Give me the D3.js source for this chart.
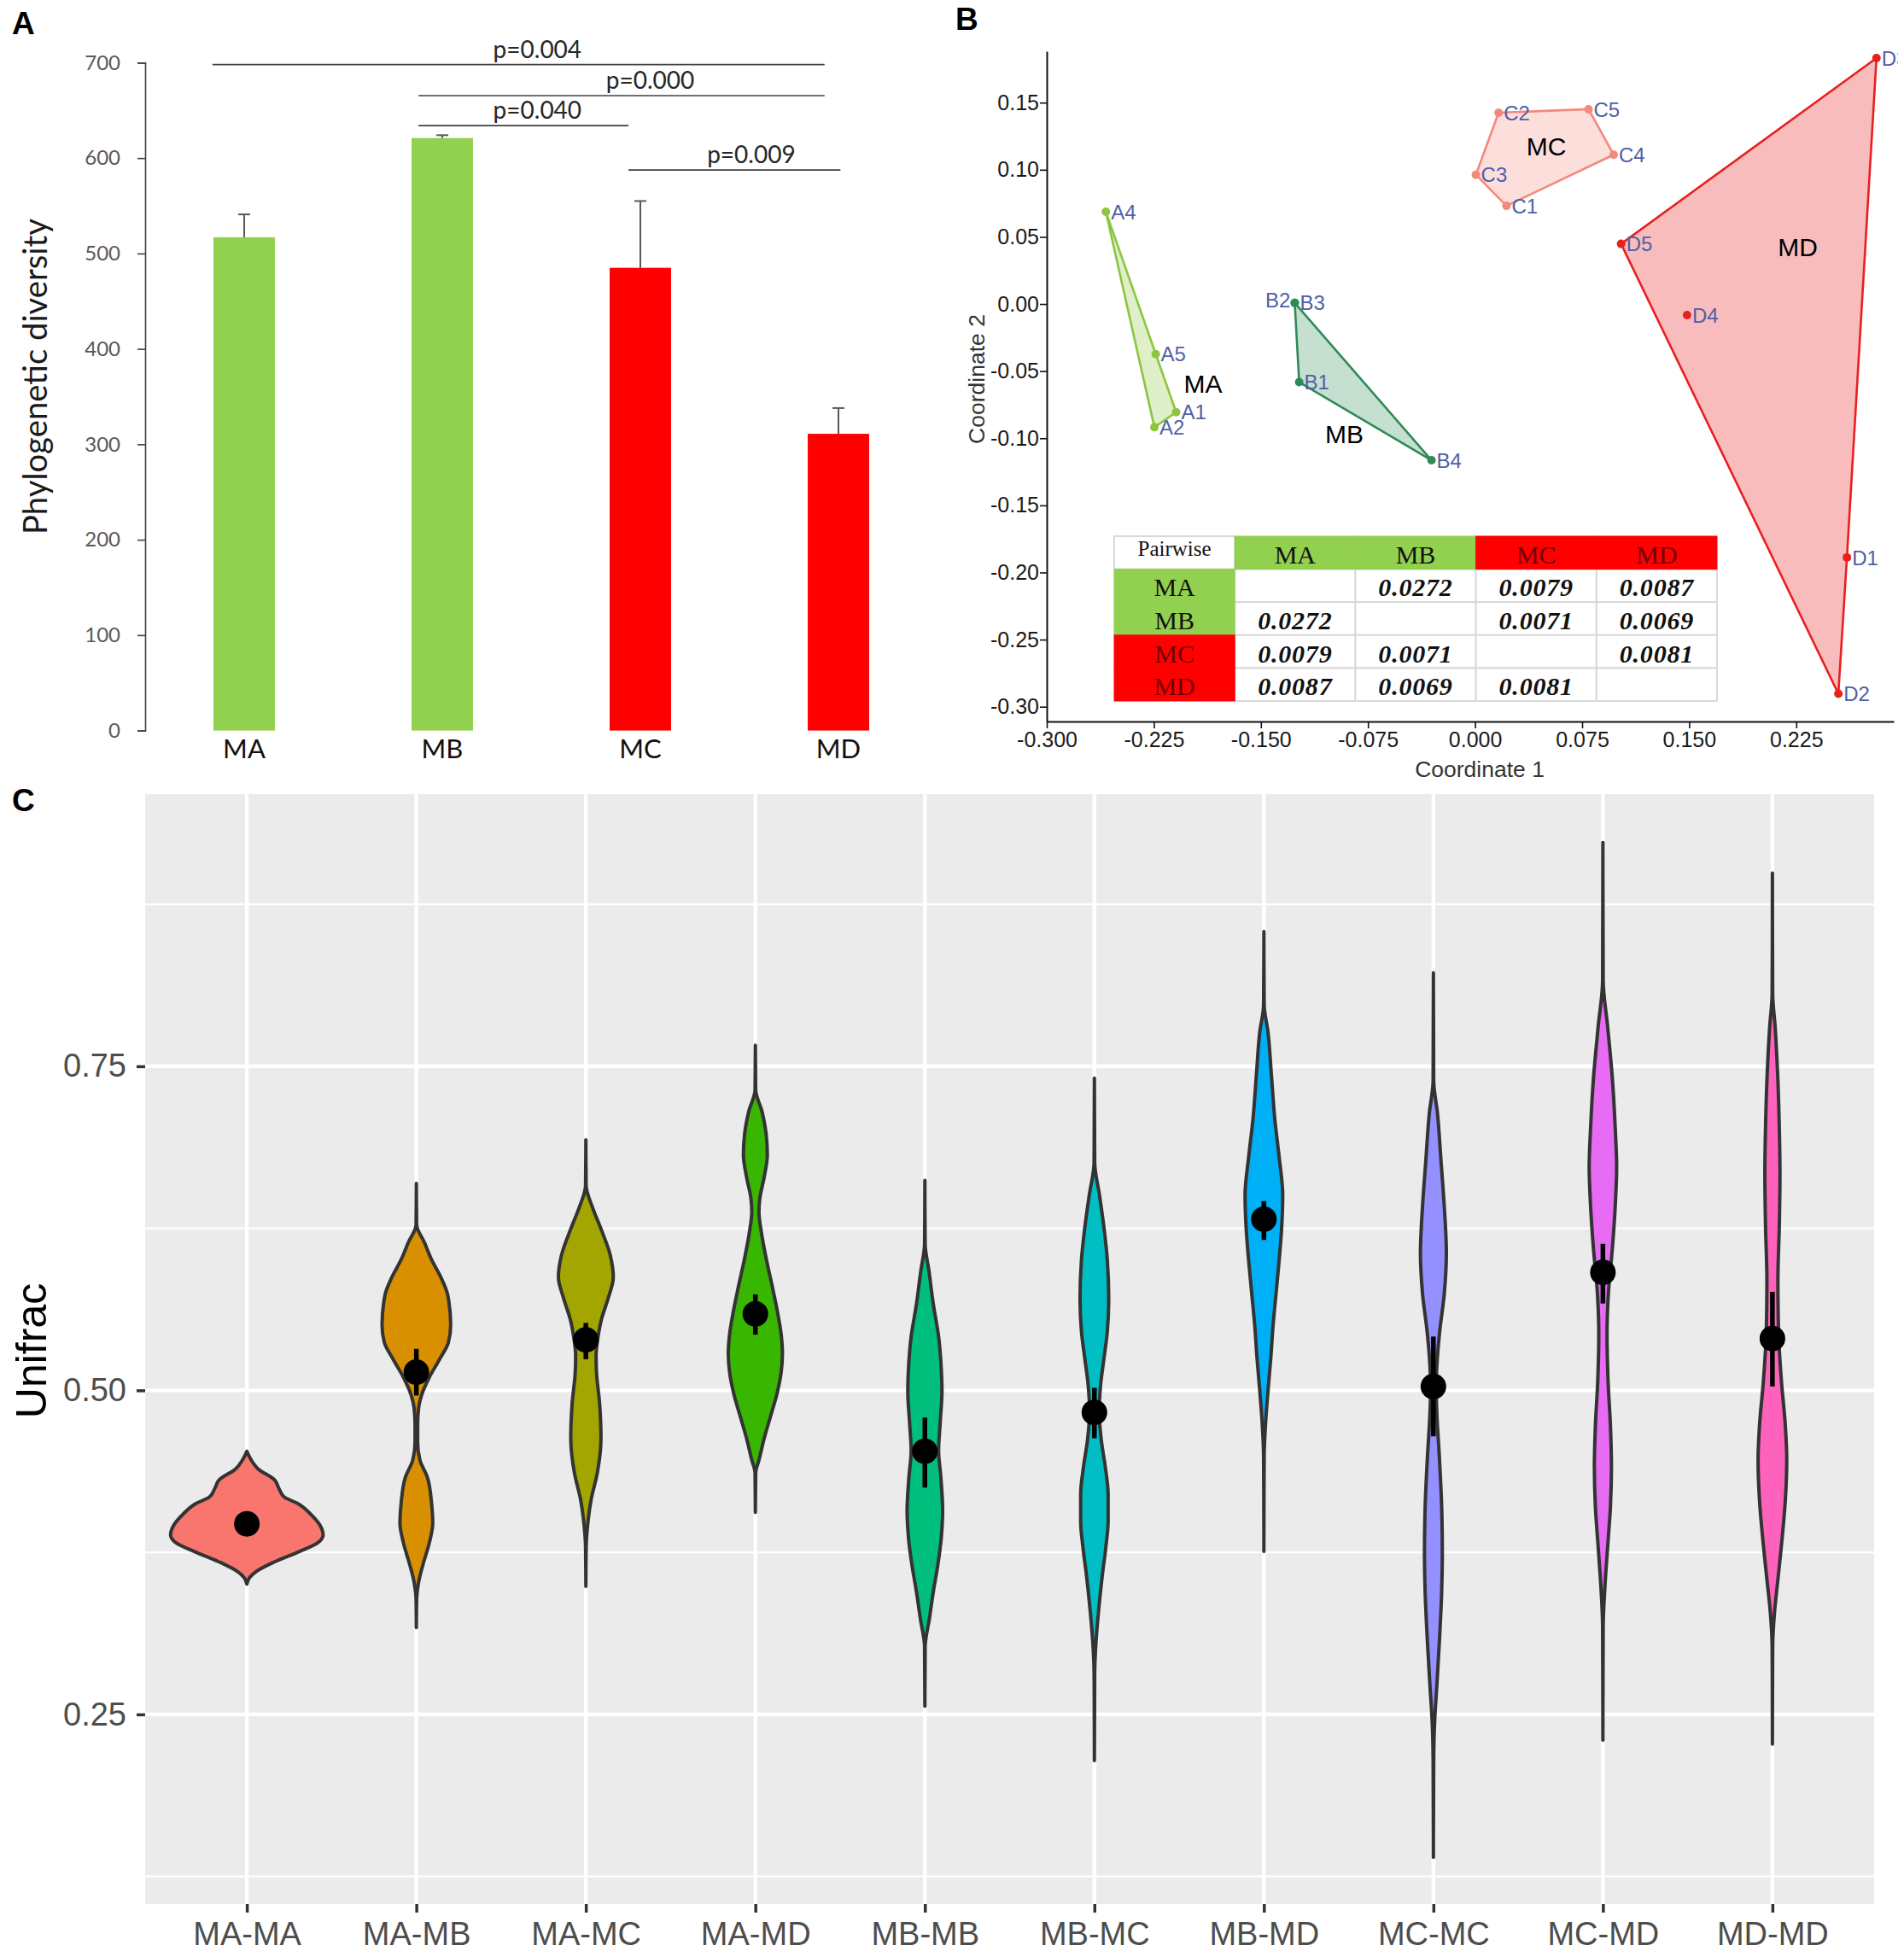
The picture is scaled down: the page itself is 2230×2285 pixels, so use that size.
<!DOCTYPE html>
<html>
<head>
<meta charset="utf-8">
<script src="https://cdn.jsdelivr.net/npm/d3@7"></script>
<style>
  body { margin: 0; background: #fff; }
  svg { display: block; }
</style>
</head>
<body>
<div id="chart"></div>
<script>
// ---------- panel A: phylogenetic diversity ----------
const pdGroups = ["MA", "MB", "MC", "MD"];
const pdMeans = [517, 621, 485, 311];
const pdErrors = [24, 3, 70, 27];
const pdTicks = [0, 100, 200, 300, 400, 500, 600, 700];
// from/to/labelAt in category index units (0 = MA centre)
const pdBrackets = [
  {label: "p=0.004", from: -0.16, to: 2.93, at: 698, labelAt: 1.48},
  {label: "p=0.000", from: 0.88, to: 2.93, at: 665.5, labelAt: 2.05},
  {label: "p=0.040", from: 0.88, to: 1.94, at: 634, labelAt: 1.48},
  {label: "p=0.009", from: 1.94, to: 3.01, at: 587.5, labelAt: 2.56}
];

// ---------- panel B: PCoA ----------
const pcoaIds = ["A1", "A2", "A4", "A5", "B1", "B2", "B3", "B4", "C1", "C2", "C3", "C4", "C5", "D1", "D2", "D3", "D4", "D5"];
const pcoaX = [-0.2094, -0.2246, -0.2586, -0.2237, -0.1232, -0.1263, -0.1263, -0.0305, 0.0220, 0.0165, 0.0006, 0.0971, 0.0795, 0.2605, 0.2545, 0.2812, 0.1485, 0.1023];
const pcoaY = [-0.0806, -0.0918, 0.0687, -0.0373, -0.0582, 0.0008, 0.0008, -0.1164, 0.0731, 0.1425, 0.0963, 0.1112, 0.1451, -0.1888, -0.2903, 0.1832, -0.0082, 0.0448];
const pcoaGroupLabelX = [-0.1905, -0.0915, 0.050, 0.226];
const pcoaGroupLabelY = [-0.0592, -0.0965, 0.1175, 0.0425];
const pcoaXTicks = [-0.300, -0.225, -0.150, -0.075, 0.000, 0.075, 0.150, 0.225];
const pcoaYTicks = [0.15, 0.10, 0.05, 0.00, -0.05, -0.10, -0.15, -0.20, -0.25, -0.30];
const pairwise = [
  [null, "0.0272", "0.0079", "0.0087"],
  ["0.0272", null, "0.0071", "0.0069"],
  ["0.0079", "0.0071", null, "0.0081"],
  ["0.0087", "0.0069", "0.0081", null]
];

// ---------- panel C: Unifrac violins ----------
const pairs = ["MA-MA", "MA-MB", "MA-MC", "MA-MD", "MB-MB", "MB-MC", "MB-MD", "MC-MC", "MC-MD", "MD-MD"];
const pairMeans = [0.397, 0.514, 0.539, 0.559, 0.453, 0.483, 0.632, 0.503, 0.591, 0.540];
const pairLow = [0.394, 0.496, 0.524, 0.543, 0.425, 0.463, 0.616, 0.4645, 0.567, 0.503];
const pairHigh = [0.400, 0.532, 0.552, 0.574, 0.479, 0.502, 0.646, 0.5415, 0.613, 0.576];
const unifracTicks = [0.25, 0.50, 0.75];
const unifracMinor = [0.125, 0.375, 0.625, 0.875];
// [unifrac value, relative density width]
const violinProfiles = [
  [[0.453,0],[0.4462,0.058],[0.4395,0.145],[0.4311,0.36],[0.4244,0.42],[0.4177,0.49],[0.4126,0.67],[0.4042,0.84],[0.3958,0.96],[0.3884,1.0],[0.3824,0.93],[0.3757,0.69],[0.3673,0.35],[0.3605,0.13],[0.3555,0.035],[0.3505,0]],
  [[0.6597,0],[0.6277,0.004],[0.6142,0.105],[0.6008,0.20],[0.5874,0.32],[0.5739,0.41],[0.5504,0.45],[0.5370,0.42],[0.5235,0.30],[0.5101,0.17],[0.4966,0.07],[0.4866,0.03],[0.4731,0.017],[0.4597,0.017],[0.4462,0.047],[0.4328,0.145],[0.4126,0.20],[0.3975,0.215],[0.3824,0.17],[0.3656,0.087],[0.3521,0.03],[0.3387,0.004],[0.3169,0]],
  [[0.6932,0],[0.6579,0.004],[0.6411,0.087],[0.6243,0.20],[0.6042,0.32],[0.5874,0.36],[0.5706,0.29],[0.5538,0.20],[0.5403,0.157],[0.5269,0.134],[0.5134,0.14],[0.4899,0.18],[0.4630,0.198],[0.4362,0.15],[0.4160,0.07],[0.3958,0.023],[0.3790,0.004],[0.3488,0]],
  [[0.7661,0],[0.7319,0.004],[0.7151,0.087],[0.6983,0.14],[0.6815,0.157],[0.6647,0.116],[0.6479,0.058],[0.6378,0.047],[0.6210,0.081],[0.6008,0.145],[0.5806,0.22],[0.5605,0.29],[0.5437,0.337],[0.5286,0.355],[0.5134,0.337],[0.4966,0.28],[0.4798,0.198],[0.4630,0.116],[0.4462,0.047],[0.4362,0.004],[0.4059,0]],
  [[0.6619,0],[0.6128,0.004],[0.5919,0.054],[0.5667,0.11],[0.5415,0.18],[0.5164,0.215],[0.4996,0.224],[0.4744,0.20],[0.4534,0.18],[0.4325,0.21],[0.4073,0.233],[0.3863,0.215],[0.3654,0.17],[0.3444,0.11],[0.3234,0.058],[0.3024,0.004],[0.2563,0]],
  [[0.7408,0],[0.6758,0.004],[0.6506,0.067],[0.6254,0.126],[0.6003,0.17],[0.5709,0.188],[0.5457,0.17],[0.5247,0.126],[0.5038,0.081],[0.4828,0.063],[0.4618,0.09],[0.4409,0.143],[0.4199,0.18],[0.3989,0.18],[0.3779,0.148],[0.3570,0.103],[0.3318,0.058],[0.3066,0.022],[0.2815,0.004],[0.2144,0]],
  [[0.854,0],[0.7974,0.004],[0.7764,0.054],[0.7429,0.099],[0.7093,0.143],[0.6799,0.20],[0.6506,0.247],[0.6254,0.233],[0.6003,0.20],[0.5751,0.16],[0.5499,0.12],[0.5247,0.09],[0.4996,0.054],[0.4744,0.022],[0.4492,0.004],[0.3758,0]],
  [[0.8222,0],[0.739,0.004],[0.7134,0.054],[0.6775,0.099],[0.6415,0.143],[0.6056,0.17],[0.5748,0.143],[0.5441,0.08],[0.5184,0.045],[0.503,0.036],[0.4825,0.045],[0.4466,0.08],[0.4107,0.108],[0.3747,0.117],[0.344,0.108],[0.308,0.08],[0.2721,0.045],[0.2465,0.018],[0.2157,0.004],[0.1398,0]],
  [[0.9227,0],[0.816,0.004],[0.7801,0.063],[0.739,0.126],[0.7031,0.161],[0.6723,0.18],[0.6415,0.161],[0.6108,0.126],[0.5748,0.072],[0.5441,0.054],[0.5081,0.067],[0.4722,0.099],[0.4414,0.112],[0.4107,0.099],[0.3799,0.063],[0.3491,0.027],[0.3183,0.004],[0.2301,0]],
  [[0.8991,0],[0.8057,0.004],[0.7801,0.036],[0.739,0.072],[0.7031,0.09],[0.6672,0.099],[0.6262,0.09],[0.5851,0.072],[0.5441,0.081],[0.5081,0.117],[0.4722,0.17],[0.4466,0.188],[0.4158,0.17],[0.385,0.126],[0.3541,0.072],[0.3284,0.027],[0.3029,0.004],[0.227,0]]
];

// ---------- styles ----------
const groupFill = {MA: "#92d050", MB: "#92d050", MC: "#ff0000", MD: "#ff0000"};
const hullColor = {MA: "#8cc63f", MB: "#2e8b57", MC: "#f4887c", MD: "#e82020"};
const violinColor = ["#F8766D", "#D89000", "#A3A500", "#39B600", "#00BF7D", "#00BFC4", "#00B0F6", "#9590FF", "#E76BF3", "#FF62BC"];
const sans = "'Liberation Sans', Arial, sans-serif";
const lato = "Lato, 'Open Sans', sans-serif";
const serif = "'Liberation Serif', 'Times New Roman', serif";

const W = 2230, H = 2285;
const svg = d3.select("#chart").append("svg")
  .attr("width", W).attr("height", H)
  .style("font-family", sans);
svg.append("rect").attr("width", W).attr("height", H).attr("fill", "#fff");

const loc = d3.formatLocale({decimal: ".", thousands: ",", grouping: [3], currency: ["", ""], minus: "-"});

// panel letters
[["A", 14, 40], ["B", 1119, 35], ["C", 14, 950]].forEach(p => {
  svg.append("text").attr("x", p[1]).attr("y", p[2]).text(p[0])
    .attr("font-size", 37).attr("font-weight", "bold").attr("fill", "#000");
});

// ================= A =================
const gA = svg.append("g");
const xA = d3.scaleBand().domain(pdGroups).range([170, 1098]).paddingInner(0.69).paddingOuter(0.345);
const yA = d3.scaleLinear().domain([0, 700]).range([855.6, 73.4]);
const idxA = d3.scaleLinear().domain([0, 1])
  .range([xA("MA") + xA.bandwidth() / 2, xA("MB") + xA.bandwidth() / 2]);

const axA = gA.append("g").attr("transform", "translate(170,0)")
  .call(d3.axisLeft(yA).tickValues(pdTicks).tickSize(9).tickPadding(20));
axA.select(".domain").attr("stroke", "#404040").attr("stroke-width", 1.6);
axA.selectAll(".tick line").attr("stroke", "#404040").attr("stroke-width", 1.6);
axA.selectAll(".tick text").attr("font-family", lato).attr("font-size", 24).attr("fill", "#595959");

gA.selectAll("rect.bar").data(pdGroups).join("rect")
  .attr("class", "bar")
  .attr("x", d => xA(d)).attr("width", xA.bandwidth())
  .attr("y", (d, i) => yA(pdMeans[i]))
  .attr("height", (d, i) => yA(0) - yA(pdMeans[i]))
  .attr("fill", d => groupFill[d]);

const errA = gA.selectAll("g.err").data(pdGroups).join("g").attr("class", "err")
  .attr("stroke", "#595959").attr("stroke-width", 2);
errA.append("line")
  .attr("x1", d => xA(d) + xA.bandwidth() / 2).attr("x2", d => xA(d) + xA.bandwidth() / 2)
  .attr("y1", (d, i) => yA(pdMeans[i])).attr("y2", (d, i) => yA(pdMeans[i] + pdErrors[i]));
errA.append("line")
  .attr("x1", d => xA(d) + xA.bandwidth() / 2 - 7).attr("x2", d => xA(d) + xA.bandwidth() / 2 + 7)
  .attr("y1", (d, i) => yA(pdMeans[i] + pdErrors[i])).attr("y2", (d, i) => yA(pdMeans[i] + pdErrors[i]));

gA.selectAll("line.bracket").data(pdBrackets).join("line")
  .attr("class", "bracket")
  .attr("x1", d => idxA(d.from)).attr("x2", d => idxA(d.to))
  .attr("y1", d => yA(d.at)).attr("y2", d => yA(d.at))
  .attr("stroke", "#404040").attr("stroke-width", 1.6);
gA.selectAll("text.pval").data(pdBrackets).join("text")
  .attr("class", "pval")
  .attr("x", d => idxA(d.labelAt)).attr("y", d => yA(d.at) - 8)
  .attr("text-anchor", "middle")
  .attr("font-family", lato).attr("font-size", 28).attr("fill", "#262626")
  .text(d => d.label);

gA.selectAll("text.xlab").data(pdGroups).join("text")
  .attr("class", "xlab")
  .attr("x", d => xA(d) + xA.bandwidth() / 2).attr("y", 888)
  .attr("text-anchor", "middle")
  .attr("font-family", lato).attr("font-size", 31).attr("fill", "#111")
  .text(d => d);

gA.append("text")
  .attr("transform", "translate(55,441) rotate(-90)")
  .attr("text-anchor", "middle")
  .attr("font-family", lato).attr("font-size", 38).attr("fill", "#1a1a1a")
  .attr("textLength", 370).attr("lengthAdjust", "spacingAndGlyphs")
  .text("Phylogenetic diversity");

// ================= B =================
const gB = svg.append("g");
// the source figure is cropped just right of the last point
svg.append("clipPath").attr("id", "clipB")
  .append("rect").attr("x", 1100).attr("y", 0).attr("width", 1123).attr("height", 930);
gB.attr("clip-path", "url(#clipB)");
const xB = d3.scaleLinear().domain([-0.3, 0.2933]).range([1226, 2218]);
const yB = d3.scaleLinear().domain([-0.311, 0.1883]).range([845, 60]);

const axBx = gB.append("g").attr("transform", "translate(0,845)")
  .call(d3.axisBottom(xB).tickValues(pcoaXTicks).tickFormat(loc.format(".3f")).tickSize(8).tickSizeOuter(0).tickPadding(4));
const axBy = gB.append("g").attr("transform", "translate(1226,0)")
  .call(d3.axisLeft(yB).tickValues(pcoaYTicks).tickFormat(loc.format(".2f")).tickSize(8).tickSizeOuter(0).tickPadding(1));
[axBx, axBy].forEach(ax => {
  ax.select(".domain").attr("stroke", "#111").attr("stroke-width", 2);
  ax.selectAll(".tick line").attr("stroke", "#111").attr("stroke-width", 1.6);
  ax.selectAll(".tick text").attr("font-family", sans).attr("font-size", 25).attr("fill", "#1a1a1a");
});

gB.append("text").attr("x", 1733).attr("y", 910).attr("text-anchor", "middle")
  .attr("font-size", 26.5).attr("fill", "#333").text("Coordinate 1");
gB.append("text").attr("transform", "translate(1153,444) rotate(-90)").attr("text-anchor", "middle")
  .attr("font-size", 26.5).attr("fill", "#333").text("Coordinate 2");

const pts = pcoaIds.map((id, i) => ({id: id, group: "M" + id[0], x: pcoaX[i], y: pcoaY[i]}));
pdGroups.forEach(g => {
  const gp = pts.filter(p => p.group === g).map(p => [xB(p.x), yB(p.y)]);
  const hull = d3.polygonHull(gp);
  gB.append("path")
    .attr("d", "M" + hull.join("L") + "Z")
    .attr("fill", hullColor[g]).attr("fill-opacity", g === "MD" ? 0.3 : 0.28)
    .attr("stroke", hullColor[g]).attr("stroke-width", 2.6).attr("stroke-linejoin", "round");
});
gB.selectAll("circle.pt").data(pts).join("circle")
  .attr("class", "pt")
  .attr("cx", d => xB(d.x)).attr("cy", d => yB(d.y)).attr("r", 5)
  .attr("fill", d => hullColor[d.group]);
gB.selectAll("text.ptlab").data(pts).join("text")
  .attr("class", "ptlab")
  .attr("x", d => d.id === "B2" ? xB(d.x) - 5 : xB(d.x) + 6)
  .attr("y", d => d.id === "B2" ? yB(d.y) - 3 : yB(d.y))
  .attr("dy", "0.36em")
  .attr("text-anchor", d => d.id === "B2" ? "end" : "start")
  .attr("font-size", 24).attr("fill", "#4f5fa8")
  .text(d => d.id);
gB.selectAll("text.grp").data(pdGroups).join("text")
  .attr("class", "grp")
  .attr("x", (d, i) => xB(pcoaGroupLabelX[i])).attr("y", (d, i) => yB(pcoaGroupLabelY[i]))
  .attr("dy", "0.36em").attr("text-anchor", "middle")
  .attr("font-size", 30).attr("fill", "#000")
  .text(d => d);

// pairwise table
const tCols = ["Pairwise"].concat(pdGroups);
const tRows = ["head"].concat(pdGroups);
const tx = d3.scaleBand().domain(tCols).range([1305, 2011]);
const ty = d3.scaleBand().domain(tRows).range([628, 821]);
const cells = [];
tRows.forEach((r, ri) => tCols.forEach((c, ci) => {
  let kind = "value", text = null, grp = null;
  if (ri === 0 && ci === 0) { kind = "corner"; text = "Pairwise"; }
  else if (ri === 0) { kind = "head"; text = c; grp = c; }
  else if (ci === 0) { kind = "head"; text = r; grp = r; }
  else { text = pairwise[ri - 1][ci - 1]; }
  cells.push({r: r, c: c, kind: kind, text: text, grp: grp});
}));
const tG = gB.append("g");
tG.selectAll("rect.cell").data(cells.filter(d => d.kind !== "head")).join("rect")
  .attr("class", "cell")
  .attr("x", d => tx(d.c)).attr("y", d => ty(d.r))
  .attr("width", tx.bandwidth()).attr("height", ty.bandwidth())
  .attr("fill", "#fff").attr("stroke", "#d9d9d9").attr("stroke-width", 2);
tG.selectAll("rect.hcell").data(cells.filter(d => d.kind === "head")).join("rect")
  .attr("class", "hcell")
  .attr("x", d => tx(d.c) - 0.5).attr("y", d => ty(d.r) - 0.5)
  .attr("width", tx.bandwidth() + 1).attr("height", ty.bandwidth() + 1)
  .attr("fill", d => groupFill[d.grp]);
tG.selectAll("text.ct").data(cells.filter(d => d.text)).join("text")
  .attr("class", "ct")
  .attr("x", d => tx(d.c) + tx.bandwidth() / 2)
  .attr("y", d => ty(d.r) + ty.bandwidth() / 2 + (d.kind === "corner" ? -5 : 2))
  .attr("dy", "0.35em").attr("text-anchor", "middle")
  .attr("font-family", serif)
  .attr("font-size", d => d.kind === "corner" ? 25 : 30)
  .attr("letter-spacing", d => d.kind === "value" ? 0.8 : 0)
  .attr("font-weight", d => d.kind === "value" ? "bold" : "normal")
  .attr("font-style", d => d.kind === "value" ? "italic" : "normal")
  .attr("fill", d => d.kind === "head" && groupFill[d.grp] === "#ff0000" ? "#6e0000" : "#111")
  .text(d => d.text);

// ================= C =================
const gC = svg.append("g");
const xC = d3.scalePoint().domain(pairs).range([170, 2195]).padding(0.6);
const yC = d3.scaleLinear().domain([0.1037, 0.960]).range([2230, 930]);
const wC = d3.scaleLinear().domain([0, 1]).range([0, xC.step() * 0.45]);

gC.append("rect").attr("x", 170).attr("y", 930).attr("width", 2195 - 170).attr("height", 1300).attr("fill", "#ebebeb");
gC.selectAll("line.minor").data(unifracMinor).join("line")
  .attr("x1", 170).attr("x2", 2195).attr("y1", d => yC(d)).attr("y2", d => yC(d))
  .attr("stroke", "#fff").attr("stroke-width", 2.2);
gC.selectAll("line.major").data(unifracTicks).join("line")
  .attr("x1", 170).attr("x2", 2195).attr("y1", d => yC(d)).attr("y2", d => yC(d))
  .attr("stroke", "#fff").attr("stroke-width", 4.4);
gC.selectAll("line.vgrid").data(pairs).join("line")
  .attr("x1", d => xC(d)).attr("x2", d => xC(d)).attr("y1", 930).attr("y2", 2230)
  .attr("stroke", "#fff").attr("stroke-width", 4.4);

const axCy = gC.append("g").attr("transform", "translate(170,0)")
  .call(d3.axisLeft(yC).tickValues(unifracTicks).tickFormat(d3.format(".2f")).tickSize(10).tickPadding(12));
const axCx = gC.append("g").attr("transform", "translate(0,2230)")
  .call(d3.axisBottom(xC).tickSize(10).tickPadding(11));
[axCx, axCy].forEach(ax => {
  ax.select(".domain").remove();
  ax.selectAll(".tick line").attr("stroke", "#333").attr("stroke-width", 3.5);
  ax.selectAll(".tick text").attr("font-family", sans).attr("font-size", 38).attr("fill", "#4d4d4d");
});

gC.append("text").attr("transform", "translate(54,1582) rotate(-90)").attr("text-anchor", "middle")
  .attr("font-size", 50).attr("fill", "#000").text("Unifrac");

pairs.forEach((p, i) => {
  const cx = xC(p);
  const area = d3.area()
    .y(d => yC(d[0]))
    .x0(d => cx - wC(d[1]))
    .x1(d => cx + wC(d[1]))
    .curve(d3.curveMonotoneY);
  gC.append("path").datum(violinProfiles[i])
    .attr("d", area)
    .attr("fill", violinColor[i])
    .attr("stroke", "#333").attr("stroke-width", 4).attr("stroke-linejoin", "round");
  gC.append("line")
    .attr("x1", cx).attr("x2", cx)
    .attr("y1", yC(pairLow[i])).attr("y2", yC(pairHigh[i]))
    .attr("stroke", "#000").attr("stroke-width", 5.5);
  gC.append("circle")
    .attr("cx", cx).attr("cy", yC(pairMeans[i])).attr("r", 15)
    .attr("fill", "#000");
});
</script>
</body>
</html>
